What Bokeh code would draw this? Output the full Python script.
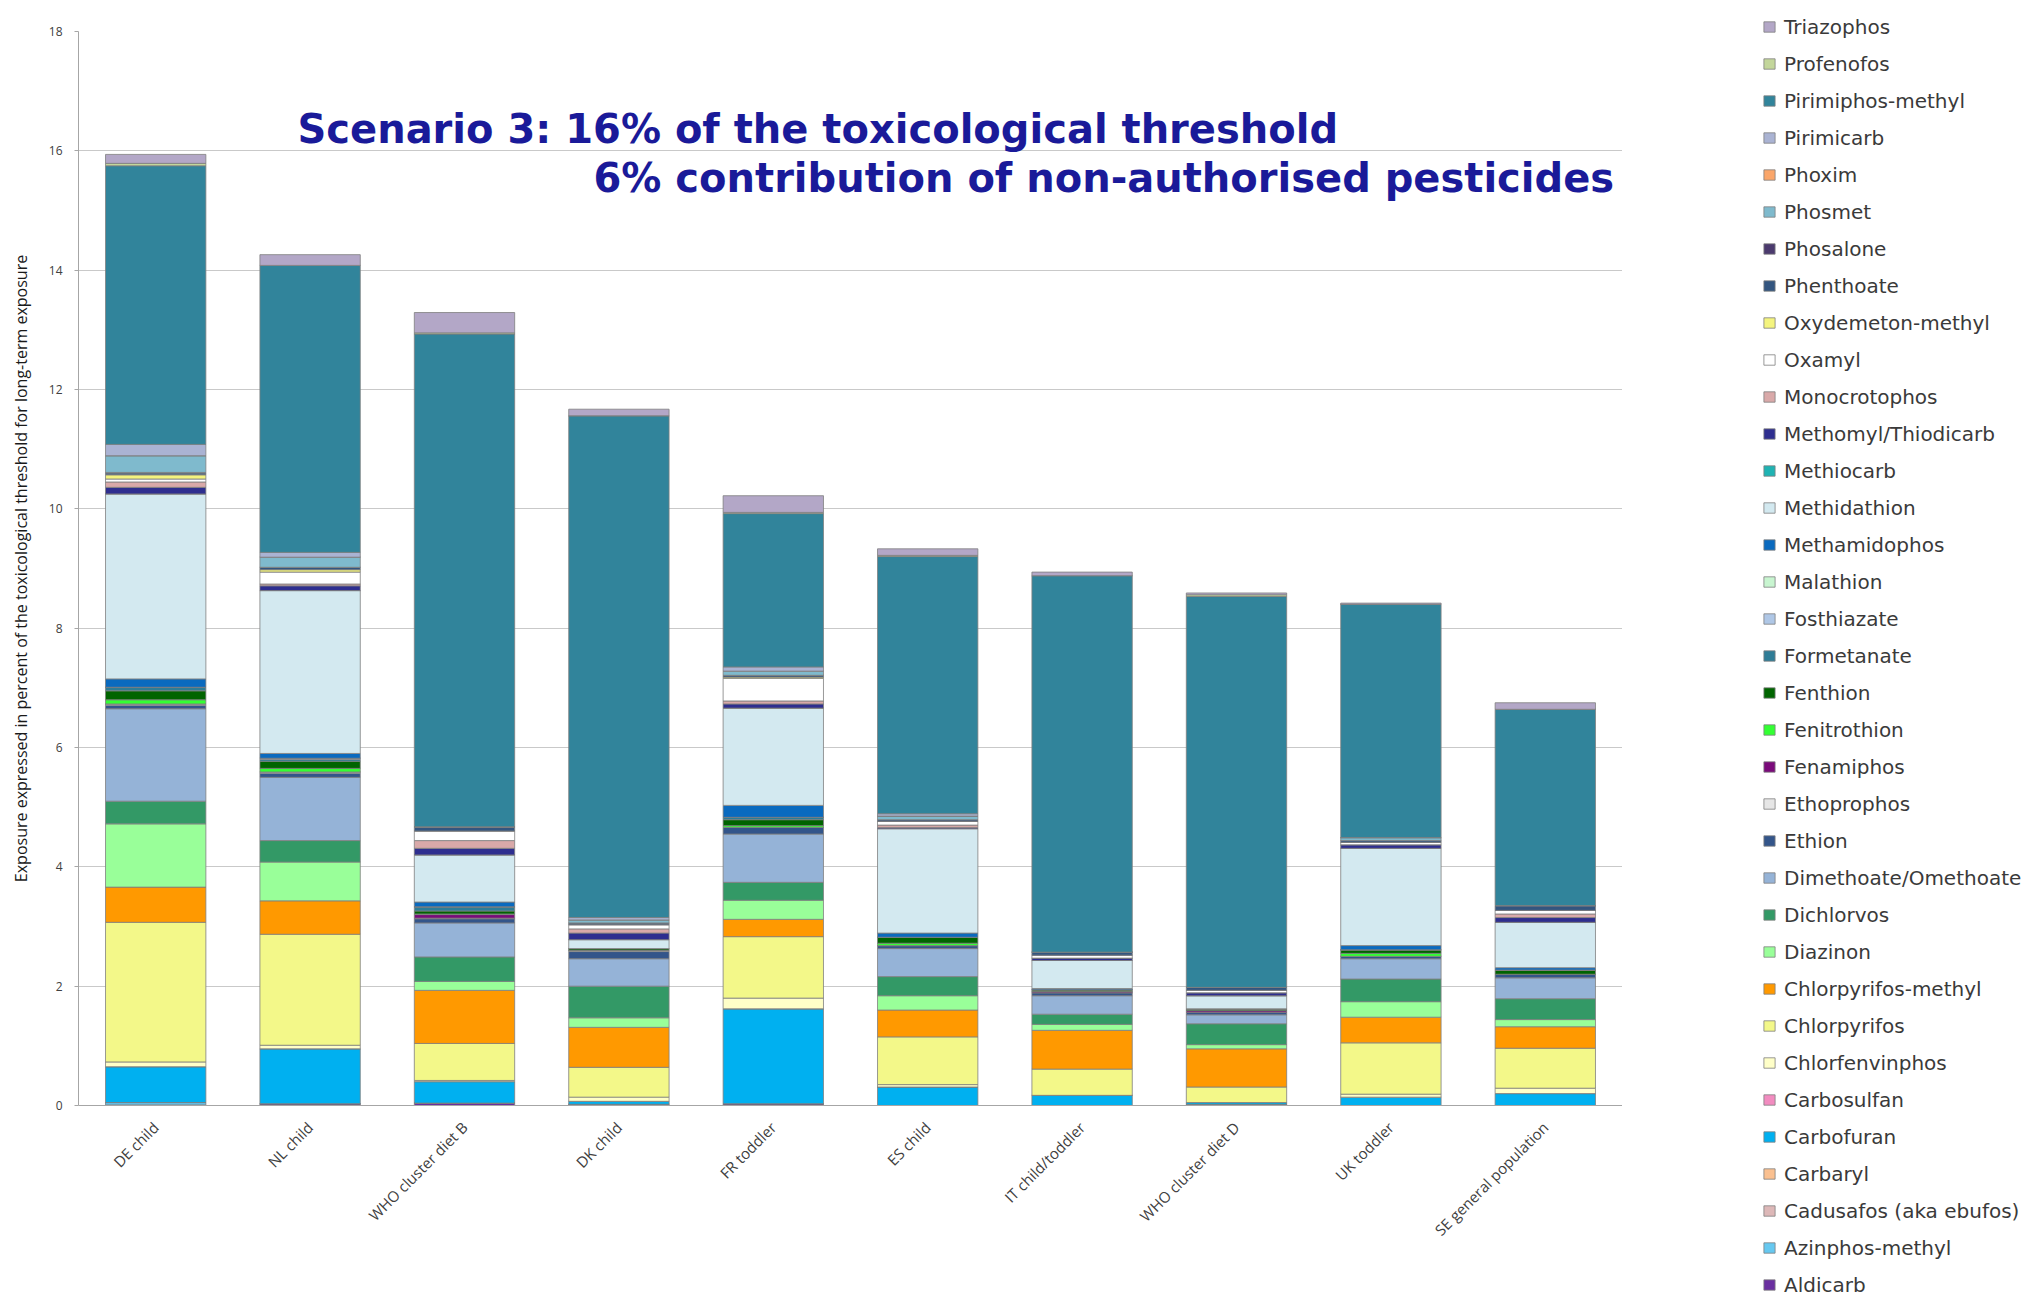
import math
from bokeh.plotting import figure
from bokeh.layouts import row
from bokeh.models import Legend, LegendItem, Label, FactorRange, FixedTicker
from bokeh.embed import file_html
from bokeh.resources import INLINE

categories = ["DE child", "NL child", "WHO cluster diet B", "DK child", "FR toddler",
              "ES child", "IT child/toddler", "WHO cluster diet D", "UK toddler",
              "SE general population"]

# stacked bottom -> top
pesticides = ["Aldicarb", "Azinphos-methyl", "Cadusafos (aka ebufos)", "Carbaryl", "Carbofuran",
              "Carbosulfan", "Chlorfenvinphos", "Chlorpyrifos", "Chlorpyrifos-methyl", "Diazinon",
              "Dichlorvos", "Dimethoate/Omethoate", "Ethion", "Ethoprophos", "Fenamiphos",
              "Fenitrothion", "Fenthion", "Formetanate", "Fosthiazate", "Malathion",
              "Methamidophos", "Methidathion", "Methiocarb", "Methomyl/Thiodicarb", "Monocrotophos",
              "Oxamyl", "Oxydemeton-methyl", "Phenthoate", "Phosalone", "Phosmet",
              "Phoxim", "Pirimicarb", "Pirimiphos-methyl", "Profenofos", "Triazophos"]

colors = ["#6A2FA0", "#66C8F0", "#DDB8B8", "#FAC090", "#00B0F0",
          "#F28CC0", "#FFFFC8", "#F3F889", "#FF9900", "#99FF99",
          "#339966", "#95B3D7", "#33558A", "#E6E6E6", "#7A0A7A",
          "#33FF33", "#006400", "#2E7C96", "#AFC7E6", "#C8F5D0",
          "#0A6ABF", "#D3E9F0", "#1FB3B3", "#2E2E8F", "#D9A9A9",
          "#FFFFFF", "#F4F47E", "#33557F", "#4B3A6E", "#7FBACD",
          "#FAA66A", "#AAB3D3", "#31849B", "#C3D69B", "#B3A7C7"]

# values in % of toxicological threshold, per category (same order as categories)
aldicarb            = [0.01, 0.03, 0.04, 0.02, 0.03, 0.00, 0.00, 0.02, 0.00, 0.00]
azinphos_methyl     = [0.04, 0.00, 0.00, 0.00, 0.00, 0.00, 0.00, 0.00, 0.00, 0.00]
cadusafos           = [0.00, 0.00, 0.00, 0.00, 0.00, 0.00, 0.00, 0.00, 0.00, 0.00]
carbaryl            = [0.00, 0.00, 0.00, 0.00, 0.00, 0.00, 0.00, 0.00, 0.00, 0.00]
carbofuran          = [0.60, 0.92, 0.36, 0.05, 1.59, 0.31, 0.17, 0.03, 0.14, 0.20]
carbosulfan         = [0.00, 0.00, 0.00, 0.00, 0.00, 0.00, 0.00, 0.00, 0.00, 0.00]
chlorfenvinphos     = [0.08, 0.06, 0.02, 0.07, 0.18, 0.04, 0.00, 0.00, 0.05, 0.09]
chlorpyrifos        = [2.34, 1.86, 0.62, 0.50, 1.03, 0.80, 0.44, 0.26, 0.86, 0.67]
chlorpyrifos_methyl = [0.59, 0.56, 0.89, 0.67, 0.29, 0.45, 0.65, 0.64, 0.43, 0.36]
diazinon            = [1.06, 0.65, 0.15, 0.16, 0.32, 0.24, 0.10, 0.07, 0.26, 0.12]
dichlorvos          = [0.38, 0.36, 0.41, 0.53, 0.30, 0.32, 0.17, 0.35, 0.38, 0.35]
dimethoate          = [1.55, 1.06, 0.57, 0.46, 0.81, 0.47, 0.31, 0.15, 0.34, 0.35]
ethion              = [0.06, 0.07, 0.07, 0.12, 0.11, 0.05, 0.05, 0.04, 0.04, 0.06]
ethoprophos         = [0.02, 0.02, 0.01, 0.02, 0.00, 0.00, 0.00, 0.00, 0.00, 0.00]
fenamiphos          = [0.00, 0.00, 0.06, 0.00, 0.00, 0.00, 0.02, 0.03, 0.00, 0.00]
fenitrothion        = [0.07, 0.06, 0.01, 0.00, 0.03, 0.04, 0.00, 0.00, 0.05, 0.00]
fenthion            = [0.15, 0.12, 0.05, 0.03, 0.10, 0.10, 0.03, 0.03, 0.06, 0.07]
formetanate         = [0.06, 0.03, 0.07, 0.00, 0.04, 0.00, 0.00, 0.00, 0.00, 0.00]
fosthiazate         = [0.00, 0.02, 0.00, 0.00, 0.00, 0.00, 0.00, 0.00, 0.00, 0.00]
malathion           = [0.00, 0.00, 0.00, 0.00, 0.00, 0.00, 0.00, 0.00, 0.00, 0.00]
methamidophos       = [0.14, 0.08, 0.08, 0.00, 0.20, 0.07, 0.02, 0.00, 0.07, 0.04]
methidathion        = [3.10, 2.73, 0.79, 0.15, 1.63, 1.75, 0.47, 0.22, 1.63, 0.76]
methiocarb          = [0.00, 0.00, 0.00, 0.00, 0.00, 0.00, 0.00, 0.00, 0.00, 0.00]
methomyl            = [0.11, 0.08, 0.11, 0.11, 0.07, 0.02, 0.04, 0.05, 0.06, 0.08]
monocrotophos       = [0.09, 0.03, 0.13, 0.07, 0.05, 0.04, 0.00, 0.00, 0.00, 0.06]
oxamyl              = [0.05, 0.20, 0.16, 0.07, 0.38, 0.06, 0.05, 0.04, 0.04, 0.06]
oxydemeton_methyl   = [0.07, 0.04, 0.00, 0.00, 0.02, 0.00, 0.00, 0.00, 0.00, 0.00]
phenthoate          = [0.03, 0.04, 0.07, 0.03, 0.03, 0.03, 0.05, 0.05, 0.03, 0.08]
phosalone           = [0.01, 0.00, 0.00, 0.00, 0.00, 0.00, 0.00, 0.00, 0.00, 0.00]
phosmet             = [0.28, 0.17, 0.00, 0.05, 0.07, 0.06, 0.00, 0.00, 0.05, 0.00]
phoxim              = [0.00, 0.00, 0.00, 0.00, 0.00, 0.00, 0.00, 0.00, 0.00, 0.00]
pirimicarb          = [0.19, 0.08, 0.00, 0.04, 0.07, 0.04, 0.00, 0.00, 0.00, 0.00]
pirimiphos_methyl   = [4.67, 4.81, 8.26, 8.41, 2.57, 4.31, 6.31, 6.55, 3.91, 3.29]
profenofos          = [0.04, 0.00, 0.02, 0.00, 0.02, 0.02, 0.00, 0.03, 0.00, 0.00]
triazophos          = [0.15, 0.18, 0.34, 0.11, 0.28, 0.11, 0.06, 0.03, 0.02, 0.11]

series = [aldicarb, azinphos_methyl, cadusafos, carbaryl, carbofuran, carbosulfan,
          chlorfenvinphos, chlorpyrifos, chlorpyrifos_methyl, diazinon, dichlorvos,
          dimethoate, ethion, ethoprophos, fenamiphos, fenitrothion, fenthion,
          formetanate, fosthiazate, malathion, methamidophos, methidathion, methiocarb,
          methomyl, monocrotophos, oxamyl, oxydemeton_methyl, phenthoate, phosalone,
          phosmet, phoxim, pirimicarb, pirimiphos_methyl, profenofos, triazophos]

y_ticks = [0, 2, 4, 6, 8, 10, 12, 14, 16, 18]

title_line1 = "Scenario 3: 16% of the toxicological threshold"
title_line2 = "6% contribution of non-authorised pesticides"
y_label = "Exposure expressed in percent of the toxicological threshold for long-term exposure"

keys = ["s%d" % i for i in range(len(pesticides))]
data = {"cat": categories}
for k, s in zip(keys, series):
    data[k] = s

p = figure(x_range=FactorRange(*categories, range_padding=0), y_range=(0, 18),
           width=1622, height=1296, output_backend="svg", toolbar_location=None,
           min_border_left=78, min_border_right=0, min_border_top=31, min_border_bottom=191)

renderers = p.vbar_stack(keys, x="cat", width=0.65, source=data, color=colors,
                         line_color="#7f7f7f", line_width=0.8)

p.outline_line_color = None
p.xgrid.grid_line_color = None
p.ygrid.grid_line_color = "#c9c9c9"
p.ygrid.grid_line_width = 1

p.yaxis.ticker = FixedTicker(ticks=y_ticks)
p.yaxis.axis_line_color = "#a6a6a6"
p.yaxis.major_tick_line_color = "#a6a6a6"
p.yaxis.minor_tick_line_color = None
p.yaxis.major_tick_out = 4
p.yaxis.major_tick_in = 0
p.yaxis.major_label_text_font = "Open Sans"
p.yaxis.major_label_text_font_size = "12px"
p.yaxis.major_label_text_color = "#404040"
p.yaxis.major_label_standoff = 12
p.yaxis.axis_label = y_label
p.yaxis.axis_label_text_font = "Open Sans"
p.yaxis.axis_label_text_font_size = "16px"
p.yaxis.axis_label_text_font_style = "normal"
p.yaxis.axis_label_text_color = "#1a1a1a"
p.yaxis.axis_label_standoff = 14

p.xaxis.axis_line_color = "#a6a6a6"
p.xaxis.major_tick_line_color = None
p.xaxis.minor_tick_line_color = None
p.xaxis.major_label_orientation = math.pi / 4
p.xaxis.major_label_text_font = "Open Sans"
p.xaxis.major_label_text_font_size = "15px"
p.xaxis.major_label_text_color = "#404040"
p.xaxis.major_label_standoff = 13

for txt, xs, yv in [(title_line1, 219, 16.37), (title_line2, 515, 15.55)]:
    p.add_layout(Label(x=xs, y=yv, x_units="screen", y_units="data", text=txt,
                       text_font="DejaVu Sans", text_font_style="bold",
                       text_font_size="40px", text_color="#1a1a99",
                       text_baseline="middle"))

# legend canvas to the right of the chart; its own (hidden) stacked bars only
# feed the legend swatches, the legend sits in the side panel so it is not clipped
lg = figure(width=413, height=1296, output_backend="svg", toolbar_location=None,
            x_axis_type=None, y_axis_type=None, min_border=0,
            x_range=FactorRange(*categories), y_range=(0, 18))
lg.outline_line_color = None
lg.grid.visible = False
swatches = lg.vbar_stack(keys, x="cat", width=0.65, source=data, color=colors,
                         line_color="#7f7f7f", line_width=0.8)
for r in swatches:
    r.visible = False
items = [LegendItem(label=name, renderers=[r]) for name, r in zip(pesticides, swatches)]
items.reverse()
legend = Legend(items=items, location=(140, -198), margin=0, padding=0,
                border_line_color=None, background_fill_alpha=0,
                inactive_fill_alpha=0,
                label_text_font="DejaVu Sans", label_text_font_size="20px",
                label_text_color="#3a3a3a", glyph_width=14, glyph_height=13,
                label_height=37, spacing=0, label_standoff=8)
lg.add_layout(legend, "left")

layout = row(p, lg, spacing=0)
open("out.html", "w").write(file_html(layout, INLINE))
